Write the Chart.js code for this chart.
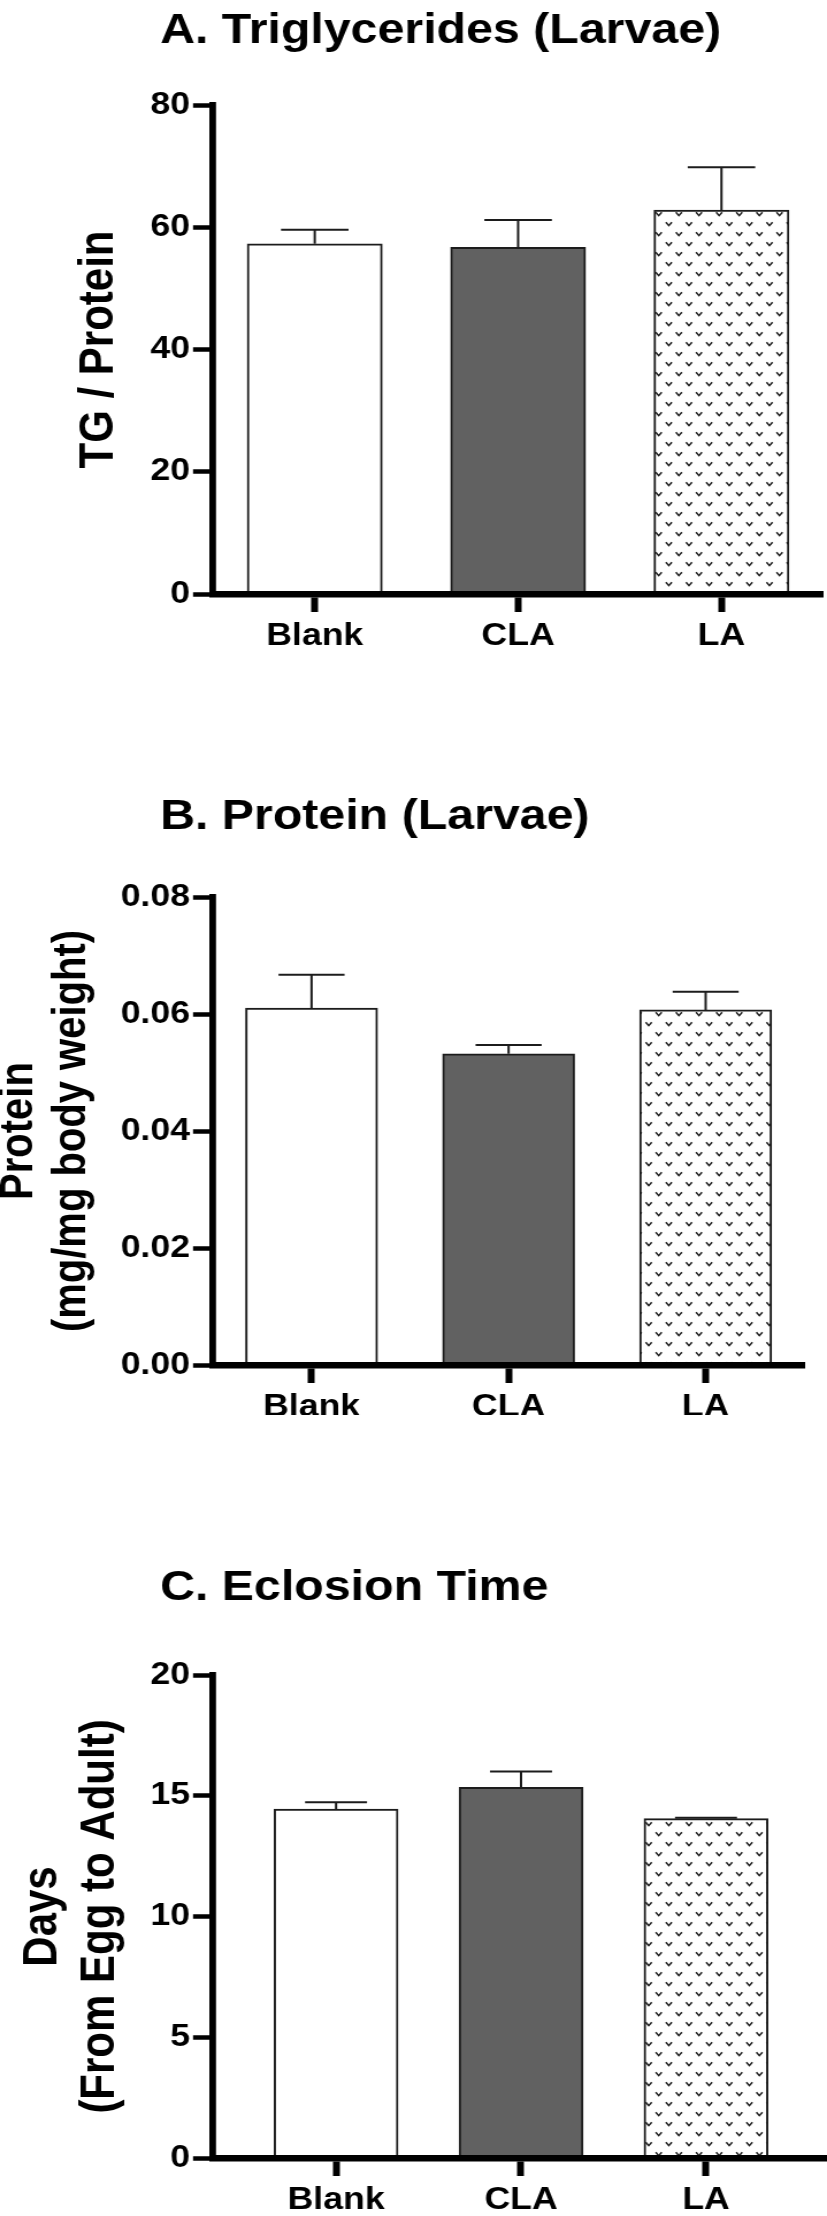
<!DOCTYPE html>
<html>
<head>
<meta charset="utf-8">
<script src="https://cdn.jsdelivr.net/npm/chart.js@4.4.0/dist/chart.umd.min.js"></script>
<style>
    body { margin: 0; background: #fff; }
    #page { position: relative; width: 827px; height: 2216px; overflow: hidden; background: #fff; }
    #page canvas { position: absolute; left: 0; }
</style>
</head>
<body>
<div id="page">
    <canvas id="chart-tg" width="719" height="700" style="top:0px;width:827px;height:700px"></canvas>
    <canvas id="chart-protein" width="719" height="720" style="top:700px;width:827px;height:720px"></canvas>
    <canvas id="chart-eclosion" width="719" height="796" style="top:1420px;width:827px;height:796px"></canvas>
</div>
<script>
const categories = ['Blank', 'CLA', 'LA'];

const tgMean = [57.3, 56.7, 62.8];
const tgSem = [2.3, 4.5, 7.0];
const tgTicks = [0, 20, 40, 60, 80];

const proteinMean = [0.0610, 0.0532, 0.0607];
const proteinSem = [0.0057, 0.0015, 0.0031];
const proteinTicks = [0, 0.02, 0.04, 0.06, 0.08];

const eclosionMean = [14.45, 15.35, 14.05];
const eclosionSem = [0.28, 0.65, 0.04];
const eclosionTicks = [0, 5, 10, 15, 20];

// the original figure is stretched sideways, so each canvas is drawn narrow and widened by css
const STRETCH = 1.15;
const FONT = '"Liberation Sans", Arial, sans-serif';

Chart.defaults.font.family = FONT;
Chart.defaults.color = '#000';

function dotPattern(ctx) {
    const tile = document.createElement('canvas');
    tile.width = 35;
    tile.height = 20;
    const t = tile.getContext('2d');
    t.fillStyle = '#ffffff';
    t.fillRect(0, 0, tile.width, tile.height);
    t.strokeStyle = '#202020';
    t.lineWidth = 1.5;
    [[4, 4], [21.5, 4], [12.7, 14], [30.2, 14]].forEach(([cx, cy]) => {
        t.beginPath();
        t.moveTo(cx - 2.6, cy - 1.8);
        t.lineTo(cx, cy + 1.6);
        t.lineTo(cx + 2.6, cy - 1.8);
        t.stroke();
    });
    return ctx.createPattern(tile, 'repeat');
}

const panelTitle = {
    id: 'panelTitle',
    afterDraw(chart, args, opts) {
        const ctx = chart.ctx;
        ctx.save();
        ctx.font = 'bold 42px ' + FONT;
        ctx.fillStyle = '#000';
        ctx.textBaseline = 'alphabetic';
        ctx.fillText(opts.text, opts.x, opts.y);
        ctx.restore();
    }
};

const errorBars = {
    id: 'errorBars',
    afterDatasetsDraw(chart, args, opts) {
        const ctx = chart.ctx;
        const y = chart.scales.y;
        const meta = chart.getDatasetMeta(0);
        ctx.save();
        ctx.strokeStyle = '#1c1c1c';
        ctx.lineWidth = 2;
        meta.data.forEach((bar, i) => {
            const top = y.getPixelForValue(opts.means[i] + opts.errors[i]);
            const half = bar.width / 4;
            ctx.beginPath();
            ctx.moveTo(bar.x, bar.y);
            ctx.lineTo(bar.x, top);
            ctx.moveTo(bar.x - half, top);
            ctx.lineTo(bar.x + half, top);
            ctx.stroke();
        });
        ctx.restore();
    }
};

function makeChart(id, cfg) {
    const ctx = document.getElementById(id).getContext('2d');
    const canvasW = ctx.canvas.width;
    const axisLeft = 213 / STRETCH;

    return new Chart(ctx, {
        type: 'bar',
        data: {
            datasets: [{
                data: cfg.means.map((m, i) => ({ x: i + 1, y: m })),
                backgroundColor: ['#ffffff', '#616161', dotPattern(ctx)],
                borderColor: '#1c1c1c',
                borderWidth: 2,
                borderSkipped: 'start',
                barThickness: cfg.barWidth / STRETCH
            }]
        },
        plugins: [panelTitle, errorBars],
        options: {
            responsive: false,
            animation: false,
            layout: {
                padding: {
                    top: cfg.plotTop,
                    right: Math.max(0, canvasW - cfg.plotRight / STRETCH),
                    bottom: cfg.padBottom,
                    left: 0
                }
            },
            plugins: {
                legend: { display: false },
                tooltip: { enabled: false },
                panelTitle: { text: cfg.title, x: 160 / STRETCH, y: cfg.titleY },
                errorBars: { means: cfg.means, errors: cfg.errors }
            },
            scales: {
                x: {
                    type: 'linear',
                    min: cfg.xMin,
                    max: cfg.xMax,
                    offset: false,
                    afterBuildTicks: axis => {
                        axis.ticks = categories.map((c, i) => ({ value: i + 1 }));
                    },
                    afterFit: axis => {
                        axis.height = cfg.xHeight;
                    },
                    ticks: {
                        autoSkip: false,
                        maxRotation: 0,
                        padding: 6,
                        color: '#000',
                        font: { size: 31, weight: 'bold' },
                        callback: v => categories[v - 1]
                    },
                    grid: {
                        offset: false,
                        drawOnChartArea: false,
                        drawTicks: true,
                        tickLength: 18,
                        tickWidth: 6,
                        tickColor: '#000'
                    },
                    border: { display: true, color: '#000', width: 6.5, z: 1 }
                },
                y: {
                    min: 0,
                    max: cfg.ticks[cfg.ticks.length - 1],
                    afterBuildTicks: axis => {
                        axis.ticks = cfg.ticks.map(v => ({ value: v }));
                    },
                    afterFit: axis => {
                        axis.width = axisLeft;
                    },
                    ticks: {
                        padding: 2.6,
                        color: '#000',
                        font: { size: 31, weight: 'bold' },
                        callback: v => v.toFixed(cfg.decimals)
                    },
                    grid: {
                        drawOnChartArea: false,
                        drawTicks: true,
                        tickLength: 17.4,
                        tickWidth: 4.5,
                        tickColor: '#000'
                    },
                    border: { display: true, color: '#000', width: 5.8 },
                    title: {
                        display: true,
                        text: cfg.yTitle,
                        color: '#000',
                        font: { size: cfg.yTitleSize, weight: 'bold', lineHeight: cfg.yTitleLine },
                        padding: { top: cfg.yTitlePad, bottom: 0 }
                    }
                }
            }
        }
    });
}

makeChart('chart-tg', {
    title: 'A. Triglycerides (Larvae)',
    titleY: 43,
    means: tgMean,
    errors: tgSem,
    ticks: tgTicks,
    decimals: 0,
    yTitle: 'TG / Protein',
    yTitleSize: 42,
    yTitleLine: 1.2,
    yTitlePad: 60.8,
    plotTop: 105,
    plotRight: 823,
    xHeight: 60,
    padBottom: 46,
    xMin: 0.5,
    xMax: 3.5,
    barWidth: 135
});

makeChart('chart-protein', {
    title: 'B. Protein (Larvae)',
    titleY: 129,
    means: proteinMean,
    errors: proteinSem,
    ticks: proteinTicks,
    decimals: 2,
    yTitle: ['Protein', '(mg/mg body weight)'],
    yTitleSize: 40,
    yTitleLine: 1.16,
    yTitlePad: -6.2,
    plotTop: 197,
    plotRight: 804,
    xHeight: 50,
    padBottom: 5,
    xMin: 0.5,
    xMax: 3.5,
    barWidth: 132
});

makeChart('chart-eclosion', {
    title: 'C. Eclosion Time',
    titleY: 180,
    means: eclosionMean,
    errors: eclosionSem,
    ticks: eclosionTicks,
    decimals: 0,
    yTitle: ['Days', '(From Egg to Adult)'],
    yTitleSize: 42,
    yTitleLine: 1.18,
    yTitlePad: 12.6,
    plotTop: 255,
    plotRight: 827,
    xHeight: 58,
    padBottom: 0,
    xMin: 0.335,
    xMax: 3.654,
    barWidth: 124
});
</script>
</body>
</html>
